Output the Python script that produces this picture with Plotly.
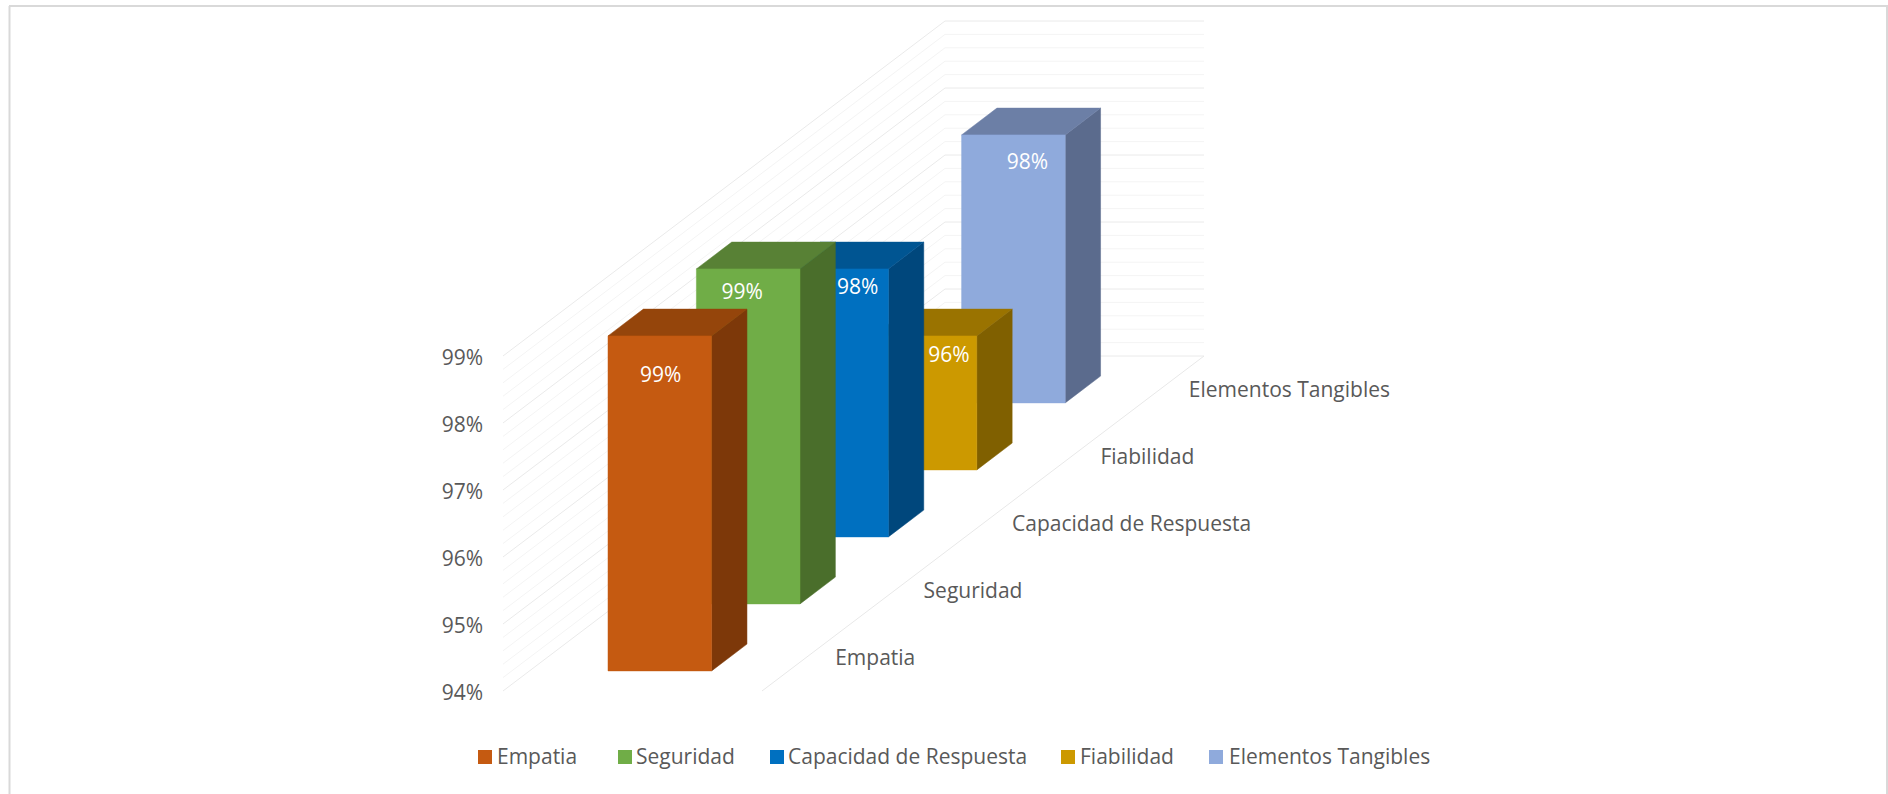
import plotly.graph_objects as go

# ---- data ----
categories = ["Empatia", "Seguridad", "Capacidad de Respuesta", "Fiabilidad", "Elementos Tangibles"]
values = [99, 99, 98, 96, 98]
value_ticks = [94, 95, 96, 97, 98, 99]
value_tick_labels = ["94%", "95%", "96%", "97%", "98%", "99%"]
front_colors = ["#C55A11", "#70AD47", "#0070C0", "#CC9900", "#8FAADC"]
side_colors = ["#7D3809", "#4A6E2B", "#00477C", "#806000", "#5B6B8D"]
top_colors = ["#95450B", "#588135", "#005592", "#9A7300", "#6C7FA6"]
# hand-placed label nudges of the original chart, px from the face's top centre
label_dx = [1, -6, 21, 24, 14]
label_dy = [41, 25, 20, 21, 29]
# legend placement, px
legend_square_x = [485, 625, 777, 1068, 1216]
legend_text_x = [495, 634, 786, 1078, 1227]
LEGEND_Y = 757

# ---- layout constants (pixels); the plot area fills the whole figure ----
W, H = 1888, 794
PL, PB = 503, 691               # pixel position of the front-left corner of the floor
BASE = 94
N = len(categories)
UX = 259.0                      # px per unit of category-axis width
UY = 67.0                       # px per percentage point
SHEAR = 88.4 / UX               # x shift per depth slot
FONT = "Open Sans"
GREY = "#595959"
FS = 21
X_RANGE = [-PL / UX, (W - PL) / UX]
Y_RANGE = [BASE - (H - PB) / UY, BASE + PB / UY]


def proj(frac, depth, val):
    """Oblique projection: width fraction, depth slot, value -> axis coords."""
    return frac + SHEAR * depth, val + depth


def poly(points, color, name):
    xs, ys = zip(*[proj(*p) for p in points])
    return go.Scatter(x=list(xs) + [xs[0]], y=list(ys) + [ys[0]], mode="lines", fill="toself",
                      fillcolor=color, line=dict(color=color, width=0.5), name=name,
                      legendgroup=name, showlegend=False, hoverinfo="skip")


def px(x):
    return x / W


def py(y):
    return (H - y) / H


fig = go.Figure()

# walls and floor
def grid_trace(levels, color):
    x, y = [], []
    for v in levels:
        for p in [(0, 0, v), (0, N, v), (1, N, v)]:
            a, b = proj(*p)
            x.append(a); y.append(b)
        x.append(None); y.append(None)
    return go.Scatter(x=x, y=y, mode="lines", line=dict(color=color, width=1),
                      showlegend=False, hoverinfo="skip")

minor = [BASE + i * 0.2 for i in range(26) if i % 5]
fig.add_trace(grid_trace(minor, "#F4F4F4"))
fig.add_trace(grid_trace(value_ticks, "#EAEAEA"))
ex0, ey0 = proj(1, 0, BASE)
ex1, ey1 = proj(1, N, BASE)
fig.add_trace(go.Scatter(x=[ex0, ex1], y=[ey0, ey1], mode="lines", line=dict(color="#E8E8E8", width=1),
                         showlegend=False, hoverinfo="skip"))

# bars, back to front
F0, F1, D0, D1 = 0.303, 0.703, 0.3, 0.7
for i in reversed(range(N)):
    v, d0, d1 = values[i], i + D0, i + D1
    fig.add_trace(poly([(F1, d0, BASE), (F1, d1, BASE), (F1, d1, v), (F1, d0, v)], side_colors[i], categories[i]))
    fig.add_trace(poly([(F0, d0, v), (F1, d0, v), (F1, d1, v), (F0, d1, v)], top_colors[i], categories[i]))
    fig.add_trace(poly([(F0, d0, BASE), (F1, d0, BASE), (F1, d0, v), (F0, d0, v)], front_colors[i], categories[i]))

# value labels
lx, ly, lt = [], [], []
for i in range(N):
    a, b = proj((F0 + F1) / 2, i + D0, values[i])
    lx.append(a + label_dx[i] / UX)
    ly.append(b - label_dy[i] / UY)
    lt.append(f"{values[i]}%")
fig.add_trace(go.Scatter(x=lx, y=ly, text=lt, mode="text", textposition="middle center",
                         textfont=dict(family=FONT, size=FS, color="white"),
                         showlegend=False, hoverinfo="skip"))

# category labels along the floor edge
cx, cy = zip(*[proj(1, i + 0.5, BASE) for i in range(N)])
fig.add_trace(go.Scatter(x=[c + 29 / UX for c in cx], y=[c - 2 / UY for c in cy], text=categories, mode="text",
                         textposition="middle right", textfont=dict(family=FONT, size=FS, color=GREY),
                         showlegend=False, hoverinfo="skip"))

# legend entries: swatches and their texts
annotations = []
for i in range(N):
    fig.add_trace(go.Scatter(x=[(legend_square_x[i] - PL) / UX], y=[BASE - (LEGEND_Y - PB) / UY],
                             mode="markers", name=categories[i], legendgroup=categories[i], showlegend=False,
                             hoverinfo="skip", marker=dict(symbol="square", size=14, color=front_colors[i])))
    annotations.append(dict(text=categories[i], xref="paper", yref="paper", x=px(legend_text_x[i]),
                            y=py(LEGEND_Y - 1), xanchor="left", yanchor="middle", showarrow=False,
                            font=dict(family=FONT, size=FS, color=GREY)))

BORDER = dict(type="line", xref="paper", yref="paper", line=dict(color="#D9D9D9", width=2))
fig.update_layout(
    width=W, height=H, margin=dict(l=0, r=0, t=0, b=0, pad=0),
    paper_bgcolor="white", plot_bgcolor="white", showlegend=False,
    font=dict(family=FONT, size=FS, color=GREY),
    xaxis=dict(visible=False, range=X_RANGE, fixedrange=True),
    yaxis=dict(range=Y_RANGE, tickvals=value_ticks, ticktext=value_tick_labels, showgrid=False,
               anchor="free", position=px(PL), zeroline=False, showline=False, ticks="",
               ticklabelstandoff=20, ticklabelshift=2, fixedrange=True,
               tickfont=dict(family=FONT, size=FS, color=GREY)),
    annotations=annotations,
    shapes=[
        dict(BORDER, x0=px(9), x1=px(1888), y0=py(6), y1=py(6)),
        dict(BORDER, x0=px(9.5), x1=px(9.5), y0=py(6), y1=py(794)),
        dict(BORDER, x0=px(1887), x1=px(1887), y0=py(6), y1=py(794)),
    ],
)

fig.write_html("out.html", post_script="document.body.style.margin='0';document.body.style.overflow='hidden';",
               config=dict(displayModeBar=False))
